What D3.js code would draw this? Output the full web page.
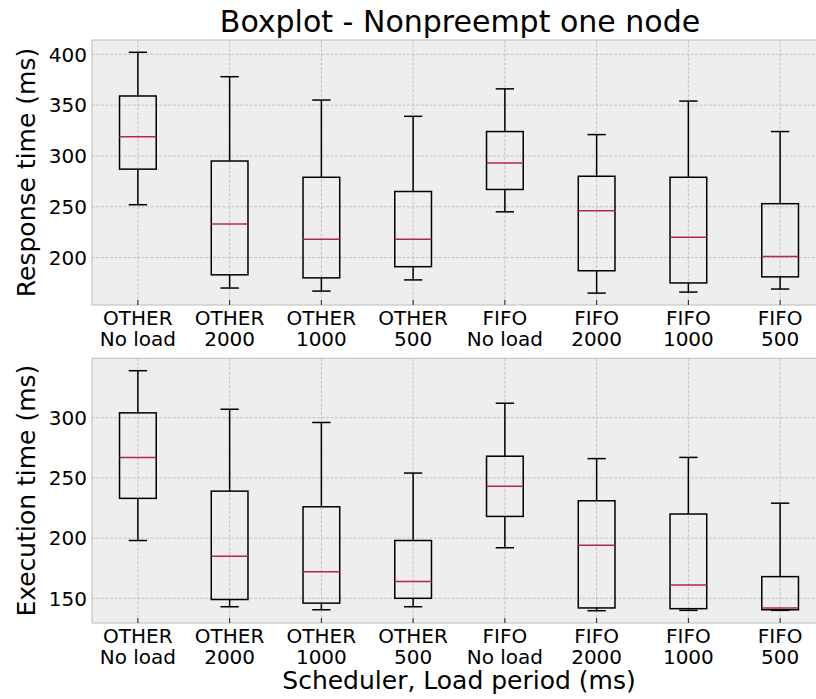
<!DOCTYPE html>
<html>
<head>
<meta charset="utf-8">
<script src="https://cdnjs.cloudflare.com/ajax/libs/d3/7.8.5/d3.min.js"></script>
<style>
  body { margin: 0; background: #fff; }
  text { font-family: "DejaVu Sans", sans-serif; fill: #000; }
</style>
</head>
<body>
<div class="container"></div>
<script>
// categories (two lines each)
var schedulers = ["OTHER", "OTHER", "OTHER", "OTHER", "FIFO", "FIFO", "FIFO", "FIFO"];
var loads = ["No load", "2000", "1000", "500", "No load", "2000", "1000", "500"];

// response time boxes
var respLo  = [252, 170, 167, 178, 245, 165, 166, 169];
var respQ1  = [287, 183, 180, 191, 267, 187, 175, 181];
var respMed = [319, 233, 218, 218, 293, 246, 220, 201];
var respQ3  = [359, 295, 279, 265, 324, 280, 279, 253];
var respHi  = [402, 378, 355, 339, 366, 321, 354, 324];
var respTicks = [200, 250, 300, 350, 400];

// execution time boxes
var execLo  = [198, 143, 140.5, 143, 192, 139.7, 140, 140];
var execQ1  = [233, 149, 146, 150, 218, 142, 141.4, 140.5];
var execMed = [267, 185, 172, 164, 243, 194, 161, 142];
var execQ3  = [304, 239, 226, 198, 268, 231, 220, 168];
var execHi  = [339, 307, 296, 254, 312, 266, 267, 229];
var execTicks = [150, 200, 250, 300];

var W = 816, H = 699;
var svg = d3.select(".container").append("svg")
    .attr("width", W).attr("height", H);

var x = d3.scaleLinear().domain([0.5, 8.5]).range([92, 826]);

function drawPanel(top, bottom, domain, ticks, lo, q1, med, q3, hi, ylabel) {
    var y = d3.scaleLinear().domain(domain).range([bottom, top]);
    var g = svg.append("g");

    g.append("rect")
        .attr("x", 92).attr("y", top)
        .attr("width", 826 - 92).attr("height", bottom - top)
        .attr("fill", "#eeeeee").attr("stroke", "#bcbcbc").attr("stroke-width", 1);

    // grid
    g.selectAll(".hgrid").data(ticks).enter().append("line")
        .attr("x1", 92).attr("x2", 826)
        .attr("y1", function(d) { return y(d); }).attr("y2", function(d) { return y(d); })
        .attr("stroke", "#b2b2b2").attr("stroke-width", 0.7).attr("stroke-dasharray", "3,1.5");
    g.selectAll(".vgrid").data(d3.range(1, 9)).enter().append("line")
        .attr("x1", function(d) { return x(d); }).attr("x2", function(d) { return x(d); })
        .attr("y1", top).attr("y2", bottom)
        .attr("stroke", "#b2b2b2").attr("stroke-width", 0.7).attr("stroke-dasharray", "3,1.5");

    // x ticks (inside)
    g.selectAll(".xt").data(d3.range(1, 9)).enter().append("line")
        .attr("x1", function(d) { return x(d); }).attr("x2", function(d) { return x(d); })
        .attr("y1", bottom - 5).attr("y2", bottom)
        .attr("stroke", "#222").attr("stroke-width", 1);

    // y tick labels
    g.selectAll(".yl").data(ticks).enter().append("text")
        .attr("x", 87).attr("y", function(d) { return y(d); })
        .attr("dy", "0.36em").attr("text-anchor", "end")
        .style("font-size", "20px").text(function(d) { return d; });

    // x tick labels
    var xl = g.selectAll(".xl").data(d3.range(8)).enter().append("text")
        .attr("text-anchor", "middle").style("font-size", "20px")
        .attr("x", function(i) { return x(i + 1); })
        .attr("y", bottom + 20);
    xl.append("tspan").attr("x", function(i) { return x(i + 1); }).attr("dy", 0)
        .text(function(i) { return schedulers[i]; });
    xl.append("tspan").attr("x", function(i) { return x(i + 1); }).attr("dy", 20.6)
        .text(function(i) { return loads[i]; });

    // boxes
    var bw = 0.4, cw = 0.2;
    var b = g.selectAll(".box").data(d3.range(8)).enter().append("g");
    b.append("line")
        .attr("x1", function(i) { return x(i + 1); }).attr("x2", function(i) { return x(i + 1); })
        .attr("y1", function(i) { return y(hi[i]); }).attr("y2", function(i) { return y(q3[i]); })
        .attr("stroke", "#000").attr("stroke-width", 1.5);
    b.append("line")
        .attr("x1", function(i) { return x(i + 1); }).attr("x2", function(i) { return x(i + 1); })
        .attr("y1", function(i) { return y(q1[i]); }).attr("y2", function(i) { return y(lo[i]); })
        .attr("stroke", "#000").attr("stroke-width", 1.5);
    b.append("line")
        .attr("x1", function(i) { return x(i + 1 - cw / 2); }).attr("x2", function(i) { return x(i + 1 + cw / 2); })
        .attr("y1", function(i) { return y(hi[i]); }).attr("y2", function(i) { return y(hi[i]); })
        .attr("stroke", "#000").attr("stroke-width", 1.5);
    b.append("line")
        .attr("x1", function(i) { return x(i + 1 - cw / 2); }).attr("x2", function(i) { return x(i + 1 + cw / 2); })
        .attr("y1", function(i) { return y(lo[i]); }).attr("y2", function(i) { return y(lo[i]); })
        .attr("stroke", "#000").attr("stroke-width", 1.5);
    b.append("rect")
        .attr("x", function(i) { return x(i + 1 - bw / 2); })
        .attr("width", function(i) { return x(i + 1 + bw / 2) - x(i + 1 - bw / 2); })
        .attr("y", function(i) { return y(q3[i]); })
        .attr("height", function(i) { return y(q1[i]) - y(q3[i]); })
        .attr("fill", "none").attr("stroke", "#000").attr("stroke-width", 1.5);
    b.append("line")
        .attr("x1", function(i) { return x(i + 1 - bw / 2); }).attr("x2", function(i) { return x(i + 1 + bw / 2); })
        .attr("y1", function(i) { return y(med[i]); }).attr("y2", function(i) { return y(med[i]); })
        .attr("stroke", "#b5284a").attr("stroke-width", 1.5);

    // y label
    svg.append("text")
        .attr("transform", "translate(35," + ((top + bottom) / 2) + ") rotate(-90)")
        .attr("text-anchor", "middle").style("font-size", "25px")
        .text(ylabel);
}

drawPanel(40, 305, [153.3, 414.1], respTicks, respLo, respQ1, respMed, respQ3, respHi, "Response time (ms)");
drawPanel(358.3, 623, [129.5, 349.3], execTicks, execLo, execQ1, execMed, execQ3, execHi, "Execution time (ms)");

svg.append("text")
    .attr("x", 460).attr("y", 31.5).attr("text-anchor", "middle")
    .style("font-size", "30px").text("Boxplot - Nonpreempt one node");

svg.append("text")
    .attr("x", 459).attr("y", 689).attr("text-anchor", "middle")
    .style("font-size", "25px").text("Scheduler, Load period (ms)");
</script>
</body>
</html>
